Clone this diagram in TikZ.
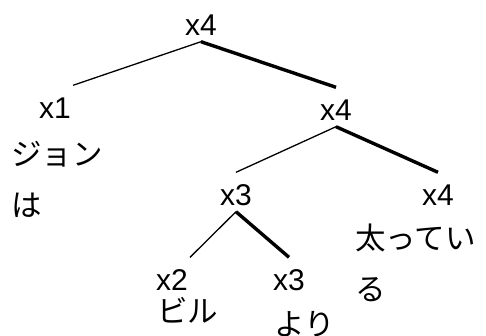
\documentclass[tikz,border=0pt]{standalone}
\usepackage{fontspec}
\setmainfont{Liberation Sans}
\newfontfamily\jpfont{Noto Sans CJK JP}
\usetikzlibrary{positioning}
\tikzset{
  branch/.style={black,line width=1.3pt},
  head/.style={black,line width=3.4pt},
  lab/.style={font=\fontsize{30}{32}\selectfont,inner xsep=2pt,inner ysep=6.5pt,
              text height=26pt,text depth=0pt,anchor=base},
  word/.style={font=\fontsize{30.5}{51}\selectfont\jpfont,align=left,anchor=north west,inner sep=0pt},
}
\begin{document}
\begin{tikzpicture}[x=1pt,y=-1pt]
  \path[use as bounding box] (0,0) rectangle (486,335);

  % category labels
  \node[lab] (root) at (201,35) {x4};
  \node[lab] (x1) at (55,118) {x1};
  \node[lab] (x4b) at (336,120) {x4};
  \node[lab] (x3a) at (236,205) {x3};
  \node[lab] (x4c) at (438,205) {x4};
  \node[lab] (x2) at (172,290) {x2};
  \node[lab] (x3b) at (289,290) {x3};

  % words
  \node[word] (john) at (11,141) {ジョン\\は};
  \node[word] (futo) at (355,224) {太ってい\\る};
  \node[word] (bill) at (157,297) {ビル};
  \node[word] (yori) at (274,311) {より};

  \draw[branch] (root.south) -- (x1.north east);
  \draw[head] (root.south) -- (x4b.north);
  \draw[branch] (x4b.south) -- (x3a.north);
  \draw[head] (x4b.south) -- (x4c.north);
  \draw[branch] (x3a.south) -- (x2.north east);
  \draw[head] (x3a.south) -- (x3b.north);
\end{tikzpicture}
\end{document}
